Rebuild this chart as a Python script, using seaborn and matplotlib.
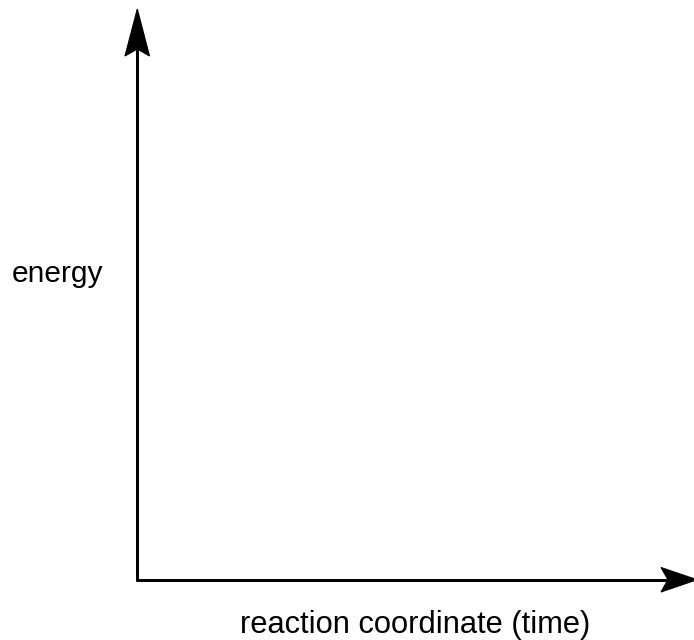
import matplotlib
matplotlib.use("Agg")
import matplotlib.pyplot as plt
from matplotlib.patches import Polygon
import seaborn as sns

# Chart content (no data series; only axis labels)
x_label = "reaction coordinate (time)"
y_label = "energy"

sns.set_style("white")
plt.rcParams["font.family"] = ["Liberation Sans", "DejaVu Sans"]

W, H = 694, 640
fig = plt.figure(figsize=(W / 100, H / 100), dpi=100)
ax = fig.add_axes([0, 0, 1, 1])
ax.set_xlim(0, W)
ax.set_ylim(H, 0)
ax.axis("off")

lw = 3 * 72 / 100  # ~3 px

# axis lines
ax.plot([137.5, 137.5], [581, 45], color="black", lw=lw, solid_capstyle="butt")
ax.plot([136, 670], [579.7, 579.7], color="black", lw=lw, solid_capstyle="butt")

# notched arrowheads
ax.add_patch(Polygon([(137.3, 9), (125, 56), (137.3, 49), (149.5, 56)],
                     closed=True, facecolor="black", edgecolor="black", lw=0.8))
ax.add_patch(Polygon([(697, 579.7), (661, 567.5), (668, 579.7), (661, 592)],
                     closed=True, facecolor="black", edgecolor="black", lw=0.8))

ax.text(11.5, 282, y_label, fontsize=21.5, ha="left", va="baseline", color="black")
ax.text(240, 633, x_label, fontsize=22.2, ha="left", va="baseline", color="black")

fig.savefig("out.png", dpi=100)
